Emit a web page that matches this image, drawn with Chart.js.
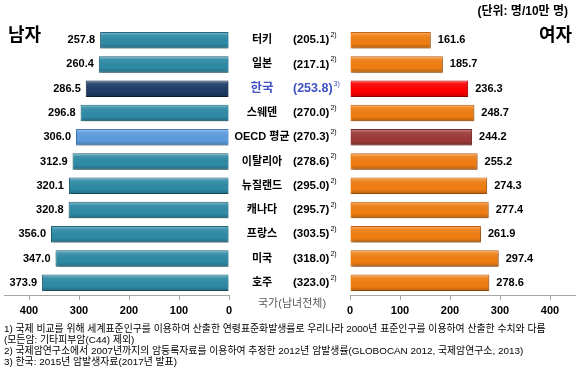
<!DOCTYPE html>
<html>
<head>
<meta charset="utf-8">
<script src="https://cdn.jsdelivr.net/npm/chart.js@4/dist/chart.umd.min.js"></script>
<style>
  body { margin: 0; width: 581px; height: 370px; position: relative; background: #fff; overflow: hidden;
         font-family: "Liberation Sans", "Noto Sans CJK KR", sans-serif; }
  canvas { position: absolute; left: 0; top: 0; }
  .txt { position: absolute; white-space: nowrap; line-height: 1; }
  .nota { position: absolute; left: 4px; white-space: nowrap; font-size: 9.9px; line-height: 1;
          font-family: "Liberation Sans", "Noto Sans CJK KR", sans-serif; color: #000; }
</style>
</head>
<body>
<canvas id="graficoHomens" width="581" height="370"></canvas>
<canvas id="graficoMulheres" width="581" height="370"></canvas>

<div class="txt" style="left:8px;top:26px;font-size:18px;font-weight:bold;">남자</div>
<div class="txt" style="right:9px;top:26px;font-size:18px;font-weight:bold;">여자</div>
<div class="txt" style="right:13px;top:5px;font-size:12px;font-weight:bold;">(단위: 명/10만 명)</div>
<div class="txt" style="left:258px;top:298px;font-size:11px;color:#595959;">국가(남녀전체)</div>

<div class="nota" style="top:324px;">1) 국제 비교를 위해 세계표준인구를 이용하여 산출한 연령표준화발생률로 우리나라 2000년 표준인구를 이용하여 산출한 수치와 다름</div>
<div class="nota" style="top:335px;">(모든암: 기타피부암(C44) 제외)</div>
<div class="nota" style="top:346px;">2) 국제암연구소에서 2007년까지의 암등록자료를 이용하여 추정한 2012년 암발생률(GLOBOCAN 2012, 국제암연구소, 2013)</div>
<div class="nota" style="top:357px;">3) 한국: 2015년 암발생자료(2017년 발표)</div>

<script>
const paises = ["터키", "일본", "한국", "스웨덴", "OECD 평균", "이탈리아", "뉴질랜드", "캐나다", "프랑스", "미국", "호주"];
const totais = ["(205.1)", "(217.1)", "(253.8)", "(270.0)", "(270.3)", "(278.6)", "(295.0)", "(295.7)", "(303.5)", "(318.0)", "(323.0)"];
const notas = ["2)", "2)", "3)", "2)", "2)", "2)", "2)", "2)", "2)", "2)", "2)"];
const homens = [257.8, 260.4, 286.5, 296.8, 306.0, 312.9, 320.1, 320.8, 356.0, 347.0, 373.9];
const mulheres = [161.6, 185.7, 236.3, 248.7, 244.2, 255.2, 274.3, 277.4, 261.9, 297.4, 278.6];
const ticksEixo = [0, 100, 200, 300, 400];

const corKorea = "#3f51c4";
const coresHomens = paises.map((p) =>
  p === "한국" ? "#1f3d66" : p === "OECD 평균" ? "#5e9ce0" : "#2f8ba6"
);
const bordasHomens = paises.map((p) =>
  p === "한국" ? "#142a48" : p === "OECD 평균" ? "#3f78b8" : "#1d6579"
);
const coresMulheres = paises.map((p) =>
  p === "한국" ? "#ff0000" : p === "OECD 평균" ? "#9e3b3a" : "#f07e12"
);
const bordasMulheres = paises.map((p) =>
  p === "한국" ? "#c00000" : p === "OECD 평균" ? "#772b2a" : "#c0600a"
);

// sombra + brilho nas barras
const brilho = {
  id: "brilho",
  beforeDatasetsDraw(chart) {
    const c = chart.ctx;
    c.save();
    c.shadowColor = "rgba(0,0,0,0.35)";
    c.shadowBlur = 3;
    c.shadowOffsetX = 1;
    c.shadowOffsetY = 2;
  },
  afterDatasetsDraw(chart) {
    const c = chart.ctx;
    c.restore();
    chart.getDatasetMeta(0).data.forEach((b) => {
      const t = b.y - b.height / 2;
      const x0 = Math.min(b.x, b.base);
      const w = Math.abs(b.x - b.base);
      const g = c.createLinearGradient(0, t, 0, t + b.height);
      g.addColorStop(0, "rgba(255,255,255,0.45)");
      g.addColorStop(0.2, "rgba(255,255,255,0.08)");
      g.addColorStop(0.7, "rgba(0,0,0,0)");
      g.addColorStop(1, "rgba(0,0,0,0.25)");
      c.fillStyle = g;
      c.fillRect(x0 + 1, t + 1, w - 2, b.height - 2);
    });
  },
};

// valores nas pontas das barras
const rotulos = {
  id: "rotulos",
  afterDraw(chart) {
    const c = chart.ctx;
    const esquerda = chart.canvas.id === "graficoHomens";
    c.save();
    c.font = "bold 11px 'Liberation Sans', sans-serif";
    c.fillStyle = "#000";
    c.textBaseline = "middle";
    chart.getDatasetMeta(0).data.forEach((b, i) => {
      const v = chart.data.datasets[0].data[i].toFixed(1);
      if (esquerda) {
        c.textAlign = "right";
        c.fillText(v, b.x - 5, b.y);
      } else {
        c.textAlign = "left";
        c.fillText(v, b.x + 7, b.y);
      }
    });
    c.restore();
  },
};

// nomes dos paises e totais no meio
const centro = {
  id: "centro",
  afterDraw(chart) {
    const c = chart.ctx;
    const y = chart.scales.y;
    c.save();
    c.textBaseline = "middle";
    paises.forEach((p, i) => {
      const py = y.getPixelForValue(i);
      const coreia = p === "한국";
      c.fillStyle = coreia ? corKorea : "#000";
      c.textAlign = "center";
      c.font = coreia
        ? "bold 12.5px 'Liberation Sans', 'Noto Sans CJK KR', sans-serif"
        : "bold 11px 'Liberation Sans', 'Noto Sans CJK KR', sans-serif";
      c.fillText(p, 262, py);
      c.textAlign = "left";
      c.font = coreia
        ? "bold 12.5px 'Liberation Sans', sans-serif"
        : "bold 11.5px 'Liberation Sans', sans-serif";
      c.fillText(totais[i], 293, py);
      const w = c.measureText(totais[i]).width;
      c.font = "7px 'Liberation Sans', sans-serif";
      c.fillText(notas[i], 293 + w + 1, py - 5);
    });
    c.restore();
  },
};

function eixoX(reverso) {
  return {
    reverse: reverso,
    min: 0,
    max: 450,
    afterBuildTicks: (s) => {
      s.ticks = ticksEixo.map((v) => ({ value: v }));
    },
    afterFit: (s) => {
      s.height = 30;
    },
    grid: { drawOnChartArea: false, tickLength: 5, color: "#a6a6a6" },
    border: { color: "#a6a6a6" },
    ticks: {
      padding: 4,
      color: "#000",
      font: { size: 11, weight: "bold", family: "'Liberation Sans', sans-serif" },
    },
  };
}

function criarGrafico(id, dados, cores, bordas, padding, reverso) {
  return new Chart(document.getElementById(id), {
    type: "bar",
    data: {
      labels: paises,
      datasets: [
        {
          data: dados,
          backgroundColor: cores,
          borderColor: bordas,
          borderWidth: 1,
          barPercentage: 0.68,
          categoryPercentage: 1,
        },
      ],
    },
    options: {
      indexAxis: "y",
      responsive: false,
      animation: false,
      layout: { padding },
      plugins: { legend: { display: false }, tooltip: { enabled: false } },
      scales: {
        y: { display: false },
        x: eixoX(reverso),
      },
    },
    plugins: id === "graficoMulheres" ? [brilho, rotulos, centro] : [brilho, rotulos],
  });
}

criarGrafico("graficoHomens", homens, coresHomens, bordasHomens,
  { left: 4, right: 352, top: 28, bottom: 45 }, true);
criarGrafico("graficoMulheres", mulheres, coresMulheres, bordasMulheres,
  { left: 350, right: 6, top: 28, bottom: 45 }, false);
</script>
</body>
</html>
